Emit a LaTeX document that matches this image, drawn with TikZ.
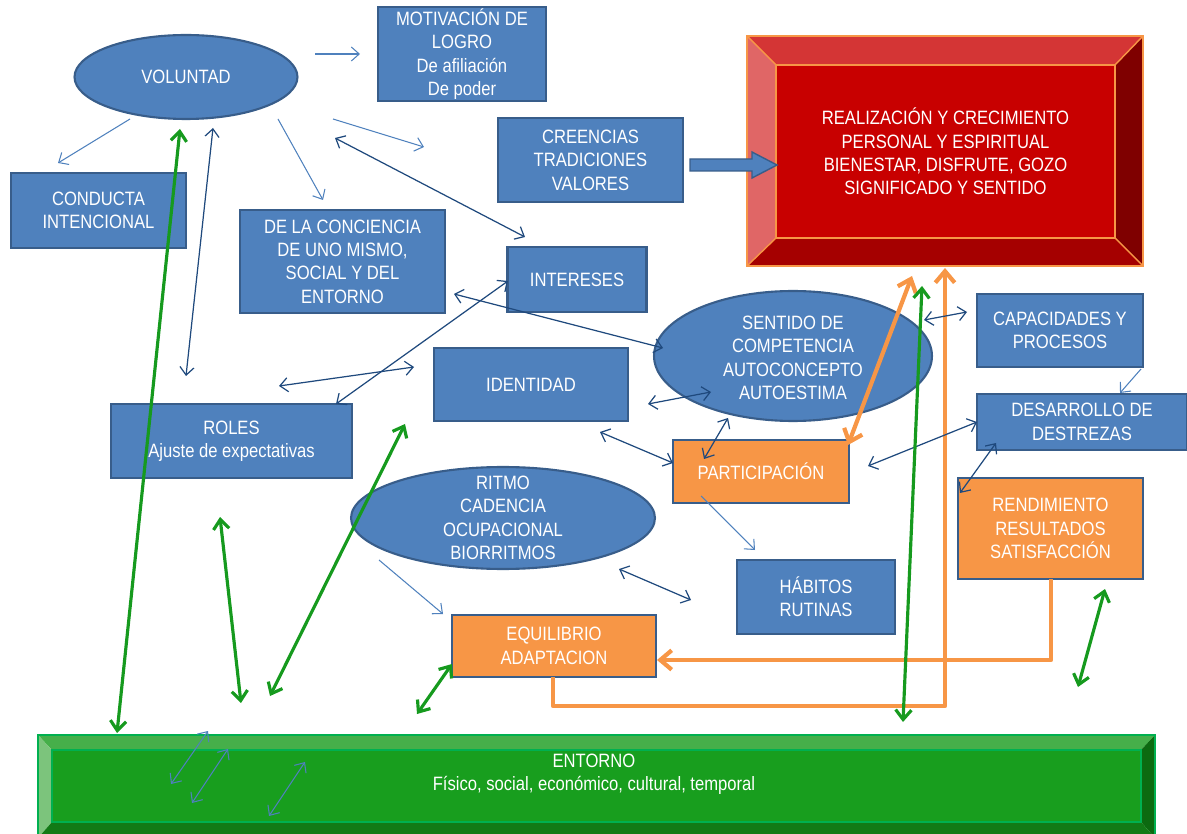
\documentclass[tikz,border=0pt]{standalone}
\usepackage{fontspec}
\setmainfont{Liberation Sans}[FakeStretch=0.86]
\usetikzlibrary{arrows.meta,shapes.geometric}
\definecolor{bfill}{HTML}{4F81BD}
\definecolor{bline}{HTML}{385D8A}
\definecolor{dblue}{HTML}{1F497D}
\definecolor{ofill}{HTML}{F79646}
\definecolor{garr}{HTML}{169A1E}
\definecolor{rtop}{HTML}{D43535}
\definecolor{rleft}{HTML}{E06666}
\definecolor{rright}{HTML}{7F0000}
\definecolor{rbot}{HTML}{A50000}
\definecolor{rmid}{HTML}{C80000}
\definecolor{gmid}{HTML}{189E1E}
\definecolor{gtop}{HTML}{46AF4A}
\definecolor{gleft}{HTML}{7CC47C}
\definecolor{gright}{HTML}{0C6A10}
\definecolor{gbot}{HTML}{127A16}
\definecolor{gline}{HTML}{00B050}
\begin{document}
\begin{tikzpicture}[x=0.02cm,y=-0.02cm,
  lbl/.style={font=\fontsize{11}{13.3}\selectfont, text=white, align=center, inner sep=0pt},
  bbox/.style={lbl, rectangle, draw=bline, line width=1.2pt, fill=bfill},
  obox/.style={bbox, fill=ofill},
  bell/.style={ellipse, draw=bline, line width=1.2pt, fill=bfill, inner sep=0pt},
  thinL/.style={draw=bfill, line width=0.6pt, >={Straight Barb[length=4.5pt,width=8pt]}},
  thinD/.style={draw=dblue, line width=0.7pt, >={Straight Barb[length=4.5pt,width=8pt]}},
  garrow/.style={draw=garr, line width=1.8pt, >={Straight Barb[length=5.5pt,width=9pt]}},
  oarrow/.style={draw=ofill, line width=2.4pt, line join=round, >={Straight Barb[length=6.5pt,width=11pt]}}
]
\clip (0,0) rectangle (1187,834);

% ---- red goal box (bevelled) ----
\fill[rtop] (747,36) -- (1143,36) -- (1115,65) -- (776,65) -- cycle;
\fill[rleft] (747,36) -- (776,65) -- (776,238) -- (747,266) -- cycle;
\fill[rright] (1143,36) -- (1143,266) -- (1115,238) -- (1115,65) -- cycle;
\fill[rbot] (747,266) -- (776,238) -- (1115,238) -- (1143,266) -- cycle;
\draw[ofill, line width=1.2pt, fill=rmid] (776,65) rectangle (1115,238);
\draw[ofill, line width=1.2pt] (747,36) rectangle (1143,266);
\draw[ofill, line width=0.8pt] (747,36) -- (776,65) (1143,36) -- (1115,65) (747,266) -- (776,238) (1143,266) -- (1115,238);
\node[lbl, minimum width=6.78cm, minimum height=3.46cm] (meta) at (945.5,151.5)
  {REALIZACIÓN Y CRECIMIENTO\\PERSONAL Y ESPIRITUAL\\BIENESTAR, DISFRUTE, GOZO\\SIGNIFICADO Y SENTIDO};

% ---- green environment bar (bevelled) ----
\fill[gtop] (38,735) -- (1155,735) -- (1141,750) -- (52,750) -- cycle;
\fill[gleft] (38,735) -- (52,750) -- (52,822) -- (38,838) -- cycle;
\fill[gright] (1155,735) -- (1155,838) -- (1141,822) -- (1141,750) -- cycle;
\fill[gbot] (38,838) -- (52,822) -- (1141,822) -- (1155,838) -- cycle;
\draw[gline, line width=1.2pt, fill=gmid] (52,750) rectangle (1141,822);
\draw[gline, line width=1.2pt] (38,735) rectangle (1155,838);
\node[lbl, minimum width=21.78cm, minimum height=1.44cm] (entorno) at (594,774)
  {ENTORNO\\Físico, social, económico, cultural, temporal};

% ---- blue / orange nodes ----
\node[bell, minimum width=4.46cm, minimum height=1.68cm] (vol) at (186,77) {};
\node[lbl] (volt) at (vol.center) {VOLUNTAD};
\node[bbox, minimum width=3.36cm, minimum height=1.88cm] (motiv) at (462,54)
  {MOTIVACIÓN DE\\LOGRO\\De afiliación\\De poder};
\node[bbox, minimum width=3.5cm, minimum height=1.5cm] (conducta) at (98.5,210.5)
  {CONDUCTA\\INTENCIONAL};
\node[bbox, minimum width=4.1cm, minimum height=2.06cm] (conc) at (342.5,261.5)
  {DE LA CONCIENCIA\\DE UNO MISMO,\\SOCIAL Y DEL\\ENTORNO};
\node[bbox, minimum width=3.7cm, minimum height=1.68cm] (cree) at (590.5,160)
  {CREENCIAS\\TRADICIONES\\VALORES};
\node[bbox, minimum width=2.78cm, minimum height=1.3cm] (inter) at (577,279.5)
  {INTERESES};
\node[bell, minimum width=5.56cm, minimum height=2.6cm] (sent) at (793,356) {};
\node[lbl] (sentt) at (793,358) {SENTIDO DE\\COMPETENCIA\\AUTOCONCEPTO\\AUTOESTIMA};
\node[bbox, minimum width=3.32cm, minimum height=1.46cm] (capac) at (1060,330.5)
  {CAPACIDADES Y\\PROCESOS};
\node[bbox, minimum width=3.88cm, minimum height=1.46cm] (ident) at (531,384.5)
  {IDENTIDAD};
\node[bbox, minimum width=4.82cm, minimum height=1.48cm] (roles) at (231.5,441)
  {ROLES\\Ajuste de expectativas};
\node[bbox, minimum width=4.2cm, minimum height=1.12cm] (desa) at (1082,422)
  {DESARROLLO DE\\DESTREZAS};
\node[obox, minimum width=3.52cm, minimum height=1.26cm] (part) at (761,471.5)
  {PARTICIPACIÓN};
\node[bell, minimum width=6.08cm, minimum height=2.04cm] (ritmo) at (503,518) {};
\node[lbl] (ritmot) at (503,518) {RITMO\\CADENCIA\\OCUPACIONAL\\BIORRITMOS};
\node[obox, minimum width=3.7cm, minimum height=2.02cm] (rend) at (1050.5,528.5)
  {RENDIMIENTO\\RESULTADOS\\SATISFACCIÓN};
\node[bbox, minimum width=3.16cm, minimum height=1.48cm] (habit) at (816,597)
  {HÁBITOS\\RUTINAS};
\node[obox, minimum width=4.08cm, minimum height=1.24cm] (equil) at (554,646)
  {EQUILIBRIO\\ADAPTACION};

% ---- block arrow creencias -> meta ----
\draw[bline, line width=0.8pt, fill=bfill] (690,159) -- (752,159) -- (752,152) -- (777,165)
  -- (752,178) -- (752,171) -- (690,171) -- cycle;

% ---- coordinates of free ends ----
\coordinate (l1a) at (315,54);   \coordinate (l1b) at (360,54);
\coordinate (l2a) at (130,119);  \coordinate (l2b) at (58,163);
\coordinate (l3a) at (278,119);  \coordinate (l3b) at (323,200);
\coordinate (l4a) at (333,119);  \coordinate (l4b) at (424,147);
\coordinate (l5a) at (1141,369); \coordinate (l5b) at (1120,393);
\coordinate (l6a) at (701,496);  \coordinate (l6b) at (755,550);
\coordinate (l7a) at (379,560);  \coordinate (l7b) at (443,614);
\coordinate (l8a) at (208,731);  \coordinate (l8b) at (171,784);
\coordinate (l9a) at (228,749);  \coordinate (l9b) at (192,803);
\coordinate (l10a) at (305,762); \coordinate (l10b) at (269,816);

\coordinate (d1a) at (213,128);  \coordinate (d1b) at (186,376);
\coordinate (d2a) at (335,138);  \coordinate (d2b) at (525,237);
\coordinate (d3a) at (454,294);  \coordinate (d3b) at (663,348);
\coordinate (d4a) at (508,281);  \coordinate (d4b) at (336,404);
\coordinate (d5a) at (279,386);  \coordinate (d5b) at (414,367);
\coordinate (d6a) at (648,404);  \coordinate (d6b) at (711,392);
\coordinate (d7a) at (600,432);  \coordinate (d7b) at (673,463);
\coordinate (d8a) at (728,418);  \coordinate (d8b) at (704,459);
\coordinate (d9a) at (868,466);  \coordinate (d9b) at (977,422);
\coordinate (d10a) at (996,443); \coordinate (d10b) at (960,493);
\coordinate (d11a) at (924,320); \coordinate (d11b) at (967,312);
\coordinate (d12a) at (619,569); \coordinate (d12b) at (691,600);

\coordinate (g1a) at (180,129);  \coordinate (g1b) at (117,733);
\coordinate (g2a) at (220,517);  \coordinate (g2b) at (241,703);
\coordinate (g3a) at (405,424);  \coordinate (g3b) at (270,696);
\coordinate (g4a) at (452,664);  \coordinate (g4b) at (417,714);
\coordinate (g5a) at (922,286);  \coordinate (g5b) at (903,722);
\coordinate (g6a) at (1105,589); \coordinate (g6b) at (1078,687);

\coordinate (o1a) at (912,276);  \coordinate (o1b) at (848,445);
\coordinate (o2a) at (553,677);  \coordinate (o2b) at (945,268);
\coordinate (o3a) at (1051,579); \coordinate (o3b) at (657,660);

% ---- orange connectors ----
\draw[oarrow,->] (o2a) -- (553,706) -- (945,706) -- (o2b);
\draw[oarrow,->] (o3a) -- (1051,660) -- (o3b);
\draw[oarrow,<->] (o1a) -- (o1b);

% ---- light blue connectors ----
\draw[thinL,->] (l1a) -- (l1b);
\draw[thinL,->] (l2a) -- (l2b);
\draw[thinL,->] (l3a) -- (l3b);
\draw[thinL,->] (l4a) -- (l4b);
\draw[thinL,->] (l5a) -- (l5b);
\draw[thinL,->] (l6a) -- (l6b);
\draw[thinL,->] (l7a) -- (l7b);
\draw[thinL,<->] (l8a) -- (l8b);
\draw[thinL,<->] (l9a) -- (l9b);
\draw[thinL,<->] (l10a) -- (l10b);

% ---- dark blue connectors ----
\foreach \i in {1,...,12} { \draw[thinD,<->] (d\i a) -- (d\i b); }

% ---- green connectors ----
\foreach \i in {1,...,6} { \draw[garrow,<->] (g\i a) -- (g\i b); }
\end{tikzpicture}
\end{document}
